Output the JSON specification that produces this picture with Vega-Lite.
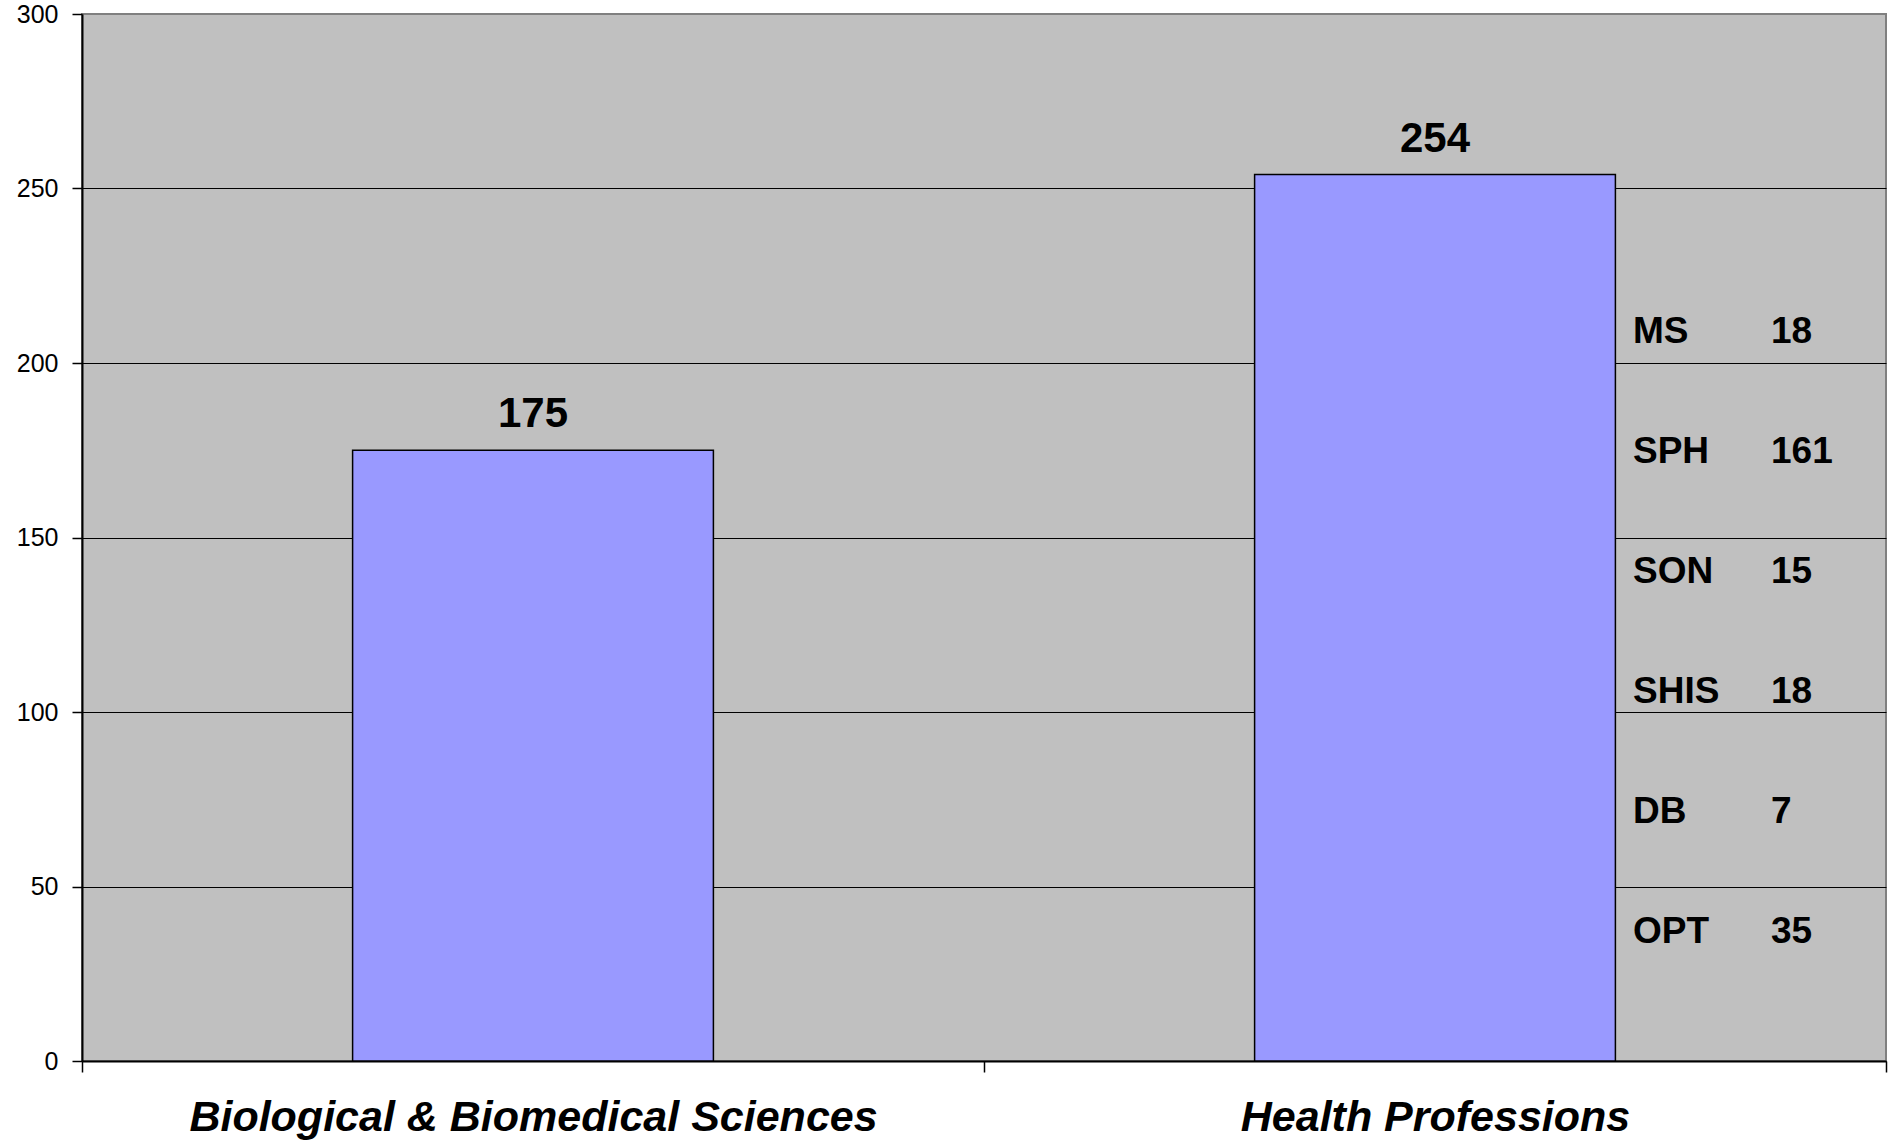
{
  "$schema": "https://vega.github.io/schema/vega-lite/v6.json",
  "width": 1804,
  "height": 1047,
  "autosize": "none",
  "padding": {"left": 82, "top": 14, "right": 6, "bottom": 81},
  "background": "white",
  "config": {
    "font": "Liberation Sans",
    "view": {"fill": "#C0C0C0", "stroke": "#808080", "strokeWidth": 2}
  },
  "layer": [
    {
      "data": {"values": [
        {"category": "Biological & Biomedical Sciences", "total": 175},
        {"category": "Health Professions", "total": 254}
      ]},
      "encoding": {
        "x": {
          "field": "category", "type": "nominal", "sort": null,
          "scale": {"paddingInner": 0, "paddingOuter": 0},
          "axis": {
            "title": null, "labelAngle": 0, "tickBand": "extent", "grid": false, "labelLimit": 0,
            "labelFont": "Liberation Sans", "labelFontSize": 43, "labelFontStyle": "italic", "labelFontWeight": "bold",
            "labelColor": "black", "tickColor": "black", "tickSize": 11, "tickWidth": 1.5,
            "domainColor": "black", "domainWidth": 2, "labelPadding": 24
          }
        },
        "y": {
          "field": "total", "type": "quantitative",
          "scale": {"domain": [0, 300], "nice": false},
          "axis": {
            "title": null, "values": [0, 50, 100, 150, 200, 250, 300],
            "grid": true,
            "gridColor": {"condition": {"test": "datum.value === 300", "value": "#808080"}, "value": "black"},
            "gridWidth": 1,
            "tickSize": 10, "tickColor": "black", "tickWidth": 1.5,
            "domainColor": "black", "domainWidth": 2,
            "labelFont": "Liberation Sans", "labelFontSize": 25, "labelColor": "black", "labelPadding": 14,
            "labelFlush": false, "labelOverlap": false
          }
        }
      },
      "layer": [
        {"mark": {"type": "bar", "fill": "#9999FF", "stroke": "black", "strokeWidth": 1.5, "width": {"band": 0.4}}},
        {"mark": {"type": "text", "font": "Liberation Sans", "fontSize": 42, "fontWeight": "bold", "color": "black", "baseline": "alphabetic", "dy": -23},
         "encoding": {"text": {"field": "total", "type": "quantitative"}}}
      ]
    },
    {
      "data": {"values": [
        {"category": "Health Professions", "school": "MS", "n": 18},
        {"category": "Health Professions", "school": "SPH", "n": 161},
        {"category": "Health Professions", "school": "SON", "n": 15},
        {"category": "Health Professions", "school": "SHIS", "n": 18},
        {"category": "Health Professions", "school": "DB", "n": 7},
        {"category": "Health Professions", "school": "OPT", "n": 35}
      ]},
      "encoding": {
        "x": {"field": "category", "type": "nominal", "sort": null},
        "y": {"field": "school", "type": "ordinal", "sort": null, "scale": {"type": "point", "range": [329, 929], "padding": 0}, "axis": null}
      },
      "layer": [
        {"mark": {"type": "text", "font": "Liberation Sans", "fontSize": 37, "fontWeight": "bold", "color": "black", "align": "left", "baseline": "alphabetic", "dx": 198},
         "encoding": {"text": {"field": "school"}}},
        {"mark": {"type": "text", "font": "Liberation Sans", "fontSize": 37, "fontWeight": "bold", "color": "black", "align": "left", "baseline": "alphabetic", "dx": 336},
         "encoding": {"text": {"field": "n", "type": "quantitative"}}}
      ]
    }
  ],
  "resolve": {"scale": {"y": "independent"}, "axis": {"y": "independent"}}
}
